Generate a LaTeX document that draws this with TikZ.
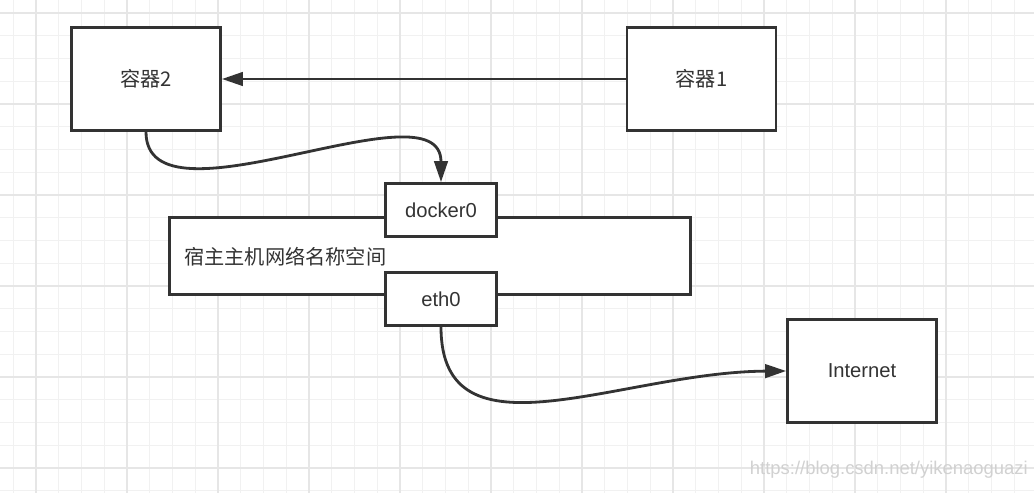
\documentclass[tikz,border=0pt]{standalone}
\usepackage{fontspec}
\setmainfont{Liberation Sans}
\newfontfamily\cjk{Noto Sans CJK SC}
\usetikzlibrary{arrows.meta}

\definecolor{ink}{HTML}{333333}
\definecolor{gridminor}{HTML}{F1F1F1}
\definecolor{gridmajor}{HTML}{E6E6E6}

\tikzset{
  box/.style = {draw = ink, line width = 1.6pt, fill = white, text = ink,
    minimum width = 2.98cm, minimum height = 2.06cm,
    font = \fontsize{11.5}{14}\selectfont},
  port/.style = {box, minimum width = 2.22cm, minimum height = 1.06cm},
  link/.style = {draw = ink, line width = 1.6pt,
    -{Triangle[length = .42cm, width = .27cm]}}
}

\begin{document}
\begin{tikzpicture}[x = .02cm, y = -.02cm]
  \useasboundingbox (0, 0) rectangle (1034, 493);
  \fill[white] (0, 0) rectangle (1034, 493);

  % grid paper
  \foreach \i in {-1, ..., 44}
    \draw[gridminor, line width = .6pt] ({36 + 22.75 * \i}, 0) -- ++(0, 493);
  \foreach \i in {0, ..., 21}
    \draw[gridminor, line width = .6pt] (0, {13 + 22.75 * \i}) -- ++(1034, 0);
  \foreach \i in {0, ..., 11}
    \draw[gridmajor, line width = .8pt] ({36 + 91 * \i}, 0) -- ++(0, 493);
  \foreach \i in {0, ..., 5}
    \draw[gridmajor, line width = .8pt] (0, {13 + 91 * \i}) -- ++(1034, 0);

  \node[box] (c2) at (146, 79) {\cjk 容器2};
  \node[box] (c1) at (701.5, 79) {\cjk 容器1};

  \node[box, minimum width = 10.42cm, minimum height = 1.54cm] (host) at (430, 256) {};
  \node[text = ink, anchor = west, font = \fontsize{11.5}{14}\selectfont]
    (hostlabel) at (178, 257) {\cjk 宿主主机网络名称空间};

  \node[port] (docker) at (441, 210) {docker0};
  \node[port] (eth) at (441, 299) {eth0};
  \node[box] (inet) at (862, 371) {Internet};

  \draw[link] (c1.west) -- (c2.east);
  \draw[link] (c2.south) .. controls (146, 235) and (441, 80) .. (docker.north);
  \draw[link] (eth.south) .. controls (441, 465) and (620, 372) .. (inet.west);

  \node[text = black!18, anchor = east, font = \fontsize{10.5}{12}\selectfont]
    (mark) at (1034, 470) {https://blog.csdn.net/yikenaoguazi};
\end{tikzpicture}
\end{document}
